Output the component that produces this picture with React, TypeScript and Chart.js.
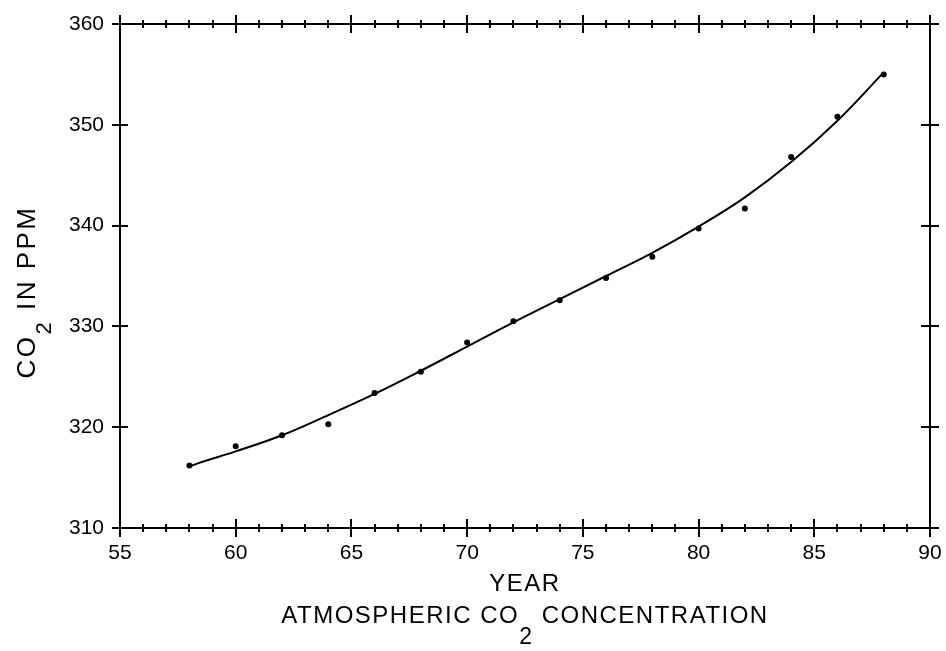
import React, { useEffect, useRef } from "react";
import { Chart, registerables } from "chart.js";

Chart.register(...registerables);

// Measured annual points (year offset from 1900, CO2 ppm)
const pointYears = [58, 60, 62, 64, 66, 68, 70, 72, 74, 76, 78, 80, 82, 84, 86, 88];
const pointPPM = [316.2, 318.1, 319.2, 320.3, 323.4, 325.5, 328.4, 330.5, 332.6, 334.8, 336.9, 339.7, 341.7, 346.8, 350.8, 355.0];

// Fitted curve
const curveYears = [58, 58.6, 60, 62, 64, 66, 68, 70, 72, 74, 76, 78, 80, 82, 84, 86, 88];
const curvePPM = [316.1, 316.6, 317.6, 319.2, 321.2, 323.3, 325.6, 328.0, 330.4, 332.7, 335.0, 337.3, 339.9, 342.8, 346.3, 350.4, 355.2];

// Axis ranges and tick steps
const xRange = [55, 90];
const xMajorStep = 5;
const xMinorStep = 1;
const yRange = [310, 360];
const yStep = 10;

// Texts
const xTitle = "YEAR";
const yTitleParts = ["CO", "2", " IN PPM"];
const chartTitleParts = ["ATMOSPHERIC CO", "2", " CONCENTRATION"];

const FONT = "'Liberation Sans', Arial, Helvetica, sans-serif";

function drawParts(
  ctx: CanvasRenderingContext2D,
  parts: string[],
  cx: number,
  baseline: number,
  subDrop: number,
  mainFont: string,
  subFont: string
) {
  const widths = parts.map((p, i) => {
    ctx.font = i === 1 ? subFont : mainFont;
    return ctx.measureText(p).width;
  });
  const total = widths.reduce((a, b) => a + b, 0);
  let x = cx - total / 2;
  parts.forEach((p, i) => {
    ctx.font = i === 1 ? subFont : mainFont;
    ctx.fillText(p, x, i === 1 ? baseline + subDrop : baseline);
    x += widths[i];
  });
}

const framePlugin = {
  id: "frame",
  afterDraw(chart: any) {
    const { ctx, chartArea: a, scales } = chart;
    const xs = scales.x;
    const ys = scales.y;
    ctx.save();
    ctx.strokeStyle = "#000";
    ctx.fillStyle = "#000";
    ctx.lineWidth = 2;
    ctx.beginPath();
    ctx.rect(a.left, a.top, a.right - a.left, a.bottom - a.top);
    ctx.stroke();

    const seg = (x1: number, y1: number, x2: number, y2: number) => {
      ctx.beginPath();
      ctx.moveTo(x1, y1);
      ctx.lineTo(x2, y2);
      ctx.stroke();
    };

    for (let v = xRange[0]; v <= xRange[1]; v += xMinorStep) {
      const px = Math.round(xs.getPixelForValue(v));
      const major = v % xMajorStep === 0;
      const len = major ? 9 : 4;
      seg(px, a.bottom - len, px, a.bottom + len);
      seg(px, a.top - len, px, a.top + len);
    }
    for (let v = yRange[0]; v <= yRange[1]; v += yStep) {
      const py = Math.round(ys.getPixelForValue(v));
      seg(a.left - 8, py, a.left + 8, py);
      seg(a.right - 9, py, a.right + 9, py);
    }

    // Titles
    const cx = (a.left + a.right) / 2;
    (ctx as any).letterSpacing = "1.5px";
    ctx.textAlign = "left";
    ctx.textBaseline = "alphabetic";
    ctx.font = `24px ${FONT}`;
    const w = ctx.measureText(xTitle).width;
    ctx.fillText(xTitle, cx - w / 2, a.bottom + 63);

    drawParts(ctx, chartTitleParts, cx, a.bottom + 95, 21, `24px ${FONT}`, `23px ${FONT}`);

    // Y title rotated
    ctx.save();
    (ctx as any).letterSpacing = "2.5px";
    ctx.translate(35, (a.top + a.bottom) / 2 + 16);
    ctx.rotate(-Math.PI / 2);
    drawParts(ctx, yTitleParts, 0, 0, 16, `26px ${FONT}`, `22px ${FONT}`);
    ctx.restore();

    ctx.restore();
  },
};

export default function App() {
  const canvasRef = useRef<HTMLCanvasElement | null>(null);

  useEffect(() => {
    if (!canvasRef.current) return;
    const curve = curveYears.map((x, i) => ({ x, y: curvePPM[i] }));
    const pts = pointYears.map((x, i) => ({ x, y: pointPPM[i] }));
    const chart = new Chart(canvasRef.current, {
      type: "scatter",
      data: {
        datasets: [
          {
            label: "fit",
            data: curve,
            showLine: true,
            borderColor: "#000",
            borderWidth: 2,
            pointRadius: 0,
            tension: 0.4,
          } as any,
          {
            label: "measured",
            data: pts,
            showLine: false,
            pointRadius: 3,
            pointBackgroundColor: "#000",
            pointBorderColor: "#000",
            pointBorderWidth: 0,
          },
        ],
      },
      options: {
        animation: false,
        responsive: true,
        maintainAspectRatio: false,
        layout: { padding: { top: 24, right: 16, left: 0, bottom: 0 } },
        plugins: {
          legend: { display: false },
          tooltip: { enabled: false },
          title: { display: false },
        },
        scales: {
          x: {
            type: "linear",
            min: xRange[0],
            max: xRange[1],
            grid: { display: false, drawTicks: false },
            border: { display: false },
            ticks: {
              stepSize: xMajorStep,
              color: "#000",
              padding: 13,
              font: { family: FONT, size: 21 },
            },
            afterFit: (s: any) => {
              s.height = 123;
              s.paddingLeft = 0;
              s.paddingRight = 0;
            },
          },
          y: {
            type: "linear",
            min: yRange[0],
            max: yRange[1],
            grid: { display: false, drawTicks: false },
            border: { display: false },
            ticks: {
              stepSize: yStep,
              color: "#000",
              padding: 16,
              font: { family: FONT, size: 21 },
            },
            afterFit: (s: any) => {
              s.width = 120;
              s.paddingTop = 0;
              s.paddingBottom = 0;
            },
          },
        },
      },
      plugins: [framePlugin],
    });
    return () => chart.destroy();
  }, []);

  return (
    <div style={{ position: "absolute", left: 0, top: 0, width: 946, height: 651 }}>
      <canvas ref={canvasRef} />
    </div>
  );
}
